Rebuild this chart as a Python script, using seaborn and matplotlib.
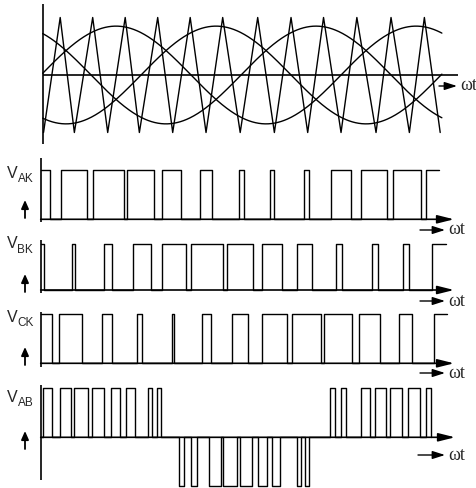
import numpy as np
import pandas as pd
import matplotlib
matplotlib.use("Agg")
import matplotlib.pyplot as plt
import seaborn as sns

# ---- data (wt in degrees) ----
# triangle carrier vertices, starting at a bottom (-1) and alternating
tri_t = [1, 21, 38, 60, 78, 99, 116, 138, 156, 177, 196, 216, 237,
         258, 278, 298, 318, 337, 358, 377, 400, 418, 440, 458, 477]
tri_v = [-1, 1] * 12 + [-1]

# reference sines: where each phase peaks, amplitude relative to carrier
sine_names = ["A", "B", "C"]
sine_peaks = [88, 208, 328]
sine_amp = 0.85
sine_end = 479

# switching edges of the leg voltages (high between on/off)
vak_on = [0, 24, 63, 103, 145, 191, 238, 275, 316, 348, 384, 423, 462]
vak_off = [11, 56, 100, 136, 168, 205, 244, 280, 322, 372, 415, 456]
vak_end = 478

vbk_on = [0, 37, 76, 111, 145, 180, 223, 266, 308, 354, 397, 435, 469]
vbk_off = [4, 41, 85, 132, 174, 219, 255, 290, 325, 362, 405, 442]
vbk_end = 486

vck_on = [0, 22, 73, 115, 157, 194, 229, 265, 302, 340, 382, 430, 472]
vck_off = [13, 49, 86, 122, 160, 204, 249, 295, 336, 374, 407, 445]
vck_end = 487

# line voltage pulses
vab_pos_on = [3, 23, 40, 62, 84, 102, 129, 139, 347, 360, 384, 401, 419, 441, 462]
vab_pos_off = [13, 36, 57, 76, 95, 113, 134, 144, 353, 366, 395, 414, 434, 455, 468]
vab_neg_on = [166, 180, 202, 219, 239, 261, 278, 307, 317]
vab_neg_off = [172, 187, 216, 236, 253, 272, 287, 312, 322]

W, H = 477, 488
DEG_PER_PX = 1.2


def step_frame(events, end=None):
    events = sorted(events)
    if events[0][0] != 0:
        events = [(0, 0)] + events
    if end is not None:
        events.append((end, events[-1][1]))
    return pd.DataFrame(events, columns=["t", "v"])


def leg_frame(on, off, end):
    ev = [(t, 1) for t in on] + [(t, 0) for t in off]
    return step_frame(ev, end)


def panel(fig, x0, y0, sy, top, bottom):
    ax = fig.add_axes([0, 1 - bottom / H, 1, (bottom - top) / H])
    ax.set_xlim((0 - x0) * DEG_PER_PX, (W - x0) * DEG_PER_PX)
    ax.set_ylim((y0 - bottom) / sy, (y0 - top) / sy)
    ax.set_axis_off()
    return ax


def arrow(ax, xy, xytext, coords, hl, hw, lw=1.0):
    ax.annotate("", xy=xy, xytext=xytext, xycoords=coords, textcoords=coords,
                annotation_clip=False,
                arrowprops=dict(arrowstyle=f"-|>,head_length={hl},head_width={hw}",
                                mutation_scale=10, lw=lw, color="black",
                                shrinkA=0, shrinkB=0))


def wt_label(ax, x_tail, x_tip, y):
    arrow(ax, (x_tip, H - y), (x_tail, H - y), "figure pixels", 0.75, 0.24)
    ax.annotate("ωt", xy=(x_tip + 3, H - y), xycoords="figure pixels",
                ha="left", va="center", fontsize=13,
                family=["Liberation Serif", "DejaVu Serif"], annotation_clip=False)


def v_label(ax, sub, yc, tail, tip):
    ax.annotate("V", xy=(6.5, H - yc), xycoords="figure pixels", ha="left", va="center",
                fontsize=11.5, family=["Liberation Sans", "DejaVu Sans"], annotation_clip=False)
    ax.annotate(sub, xy=(17.5, H - yc - 6), xycoords="figure pixels", ha="left",
                va="center", fontsize=8.5, family=["Liberation Sans", "DejaVu Sans"],
                annotation_clip=False)
    arrow(ax, (25, H - tip), (25, H - tail), "figure pixels", 0.5, 0.22, lw=1.3)


sns.set_style("white")
fig = plt.figure(figsize=(W / 100, H / 100), dpi=100)
line_kw = dict(estimator=None, sort=False, color="black", linewidth=1.0, legend=False)

# ---- top panel: carrier + three reference sines ----
ax = panel(fig, 42.7, 75, 57.5, 0, 150)
tri = pd.DataFrame({"t": tri_t, "v": tri_v})
sns.lineplot(data=tri, x="t", y="v", ax=ax, **line_kw)
t = np.linspace(0, sine_end, 500)
for name, pk in zip(sine_names, sine_peaks):
    df = pd.DataFrame({"t": t, "v": sine_amp * np.cos(np.radians(t - pk))})
    sns.lineplot(data=df, x="t", y="v", ax=ax, **line_kw)
ax.vlines(0, (75 - 144) / 57.5, (75 - 4) / 57.5, color="black", lw=1.2)
ax.hlines(0, 0, (458 - 42.7) * DEG_PER_PX, color="black", lw=1.2)
ax.set_axis_off()
wt_label(ax, 439, 457, 86)

# ---- leg voltage panels ----
legs = [
    ("AK", leg_frame(vak_on, vak_off, vak_end), 219.3, 49.3, 152, 226, 158, 222, 173.5, 218, 200, 230),
    ("BK", leg_frame(vbk_on, vbk_off, vbk_end), 290.0, 46.0, 232, 298, 240, 293, 244, 292, 274, 301),
    ("CK", leg_frame(vck_on, vck_off, vck_end), 363.3, 49.0, 305, 372, 311.7, 366.7, 317, 365, 347, 373),
]
for sub, df, y0, sy, top, bottom, ax_top, ax_bot, yc, tail, tip, wt_y in legs:
    ax = panel(fig, 40.7, y0, sy, top, bottom)
    sns.lineplot(data=df, x="t", y="v", ax=ax, drawstyle="steps-post", **line_kw)
    ax.vlines(0, (y0 - ax_bot) / sy, (y0 - ax_top) / sy, color="black", lw=1.2)
    arrow(ax, ((454 - 40.7) * DEG_PER_PX, 0), (0, 0), "data", 1.0, 0.25, lw=1.2)
    ax.set_axis_off()
    v_label(ax, sub, yc, tail, tip)
    wt_label(ax, 420, 445, wt_y)

# ---- line voltage panel ----
y0, sy = 437.3, 49.0
ax = panel(fig, 40.7, y0, sy, 378, 488)
ev = ([(t, 1) for t in vab_pos_on] + [(t, 0) for t in vab_pos_off]
      + [(t, -1) for t in vab_neg_on] + [(t, 0) for t in vab_neg_off])
vab = step_frame(ev)
sns.lineplot(data=vab, x="t", y="v", ax=ax, drawstyle="steps-post", **line_kw)
ax.vlines(0, (y0 - 480) / sy, (y0 - 385) / sy, color="black", lw=1.2)
arrow(ax, ((455 - 40.7) * DEG_PER_PX, 0), (0, 0), "data", 1.0, 0.25, lw=1.2)
ax.set_axis_off()
v_label(ax, "AB", 397, 449, 431)
wt_label(ax, 418, 445, 455)

fig.savefig("out.png", dpi=100, facecolor="white")
